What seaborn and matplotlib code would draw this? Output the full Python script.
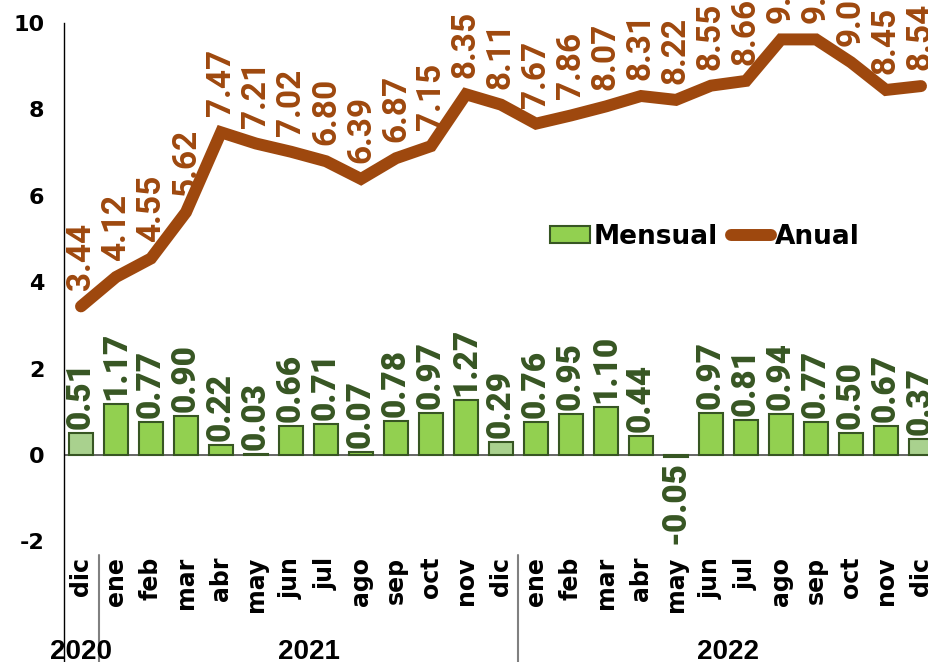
import matplotlib
matplotlib.use("Agg")
import matplotlib.pyplot as plt
import seaborn as sns
import pandas as pd
import numpy as np
from matplotlib.patches import Patch
from matplotlib.lines import Line2D

# ---- data ----
months = ["dic", "ene", "feb", "mar", "abr", "may", "jun", "jul", "ago", "sep", "oct", "nov", "dic",
          "ene", "feb", "mar", "abr", "may", "jun", "jul", "ago", "sep", "oct", "nov", "dic"]
years = ["2020"] + ["2021"] * 12 + ["2022"] * 12
mensual = [0.51, 1.17, 0.77, 0.90, 0.22, 0.03, 0.66, 0.71, 0.07, 0.78, 0.97, 1.27, 0.29,
           0.76, 0.95, 1.10, 0.44, -0.05, 0.97, 0.81, 0.94, 0.77, 0.50, 0.67, 0.37]
anual = [3.44, 4.12, 4.55, 5.62, 7.47, 7.21, 7.02, 6.80, 6.39, 6.87, 7.15, 8.35, 8.11,
         7.67, 7.86, 8.07, 8.31, 8.22, 8.55, 8.66, 9.62, 9.62, 9.09, 8.45, 8.54]
yticks = [-2, 0, 2, 4, 6, 8, 10]

GREEN = "#92d050"
GREEN_LIGHT = "#a9d18e"
GREEN_EDGE = "#375623"
GREEN_TXT = "#375623"
BROWN = "#9e480e"

df = pd.DataFrame({"pos": range(len(months)), "mes": months, "anio": years,
                   "mensual": mensual, "anual": anual})
bar_colors = [GREEN_LIGHT if m == "dic" else GREEN for m in months]

sns.set_style("white")
plt.rcParams["font.family"] = ["DejaVu Sans"]
plt.rcParams["text.color"] = "black"

W, H = 929, 662
fig = plt.figure(figsize=(W / 100, H / 100), dpi=100)
# axes: y=10 at px 23, y=-5 at px 671; x=-0.5 at px 63.5, x=24.5 at px 938.5
ax = fig.add_axes([63.5 / W, (H - 671) / H, 875 / W, 648 / H])

sns.barplot(data=df, x="pos", y="mensual", hue="pos", palette=bar_colors, legend=False,
            width=0.67, saturation=1, edgecolor=GREEN_EDGE, linewidth=1.5, ax=ax, zorder=2)
sns.lineplot(data=df, x="pos", y="anual", color=BROWN, linewidth=8.6, ax=ax, zorder=3,
             solid_joinstyle="miter", solid_capstyle="round")

ax.set_xlim(-0.5, 24.5)
ax.set_ylim(-5, 10)
ax.set_yticks(yticks)
ax.set_yticklabels([str(t) for t in yticks], fontsize=16, fontweight="bold", color="black")
ax.tick_params(axis="y", length=5.8, width=1.3, color="#808080", pad=8)
ax.set_xticks([])
ax.set_xlabel("")
ax.set_ylabel("")
for s in ["top", "right", "bottom"]:
    ax.spines[s].set_visible(False)
ax.spines["left"].set_color("black")
ax.spines["left"].set_linewidth(1.0)
ax.axhline(0, color="#595959", linewidth=1.3, zorder=1)

# data labels
for i, (m, a) in enumerate(zip(mensual, anual)):
    if m >= 0:
        ax.annotate(f"{m:.2f}", (i, m), xytext=(0, 3), textcoords="offset points",
                    rotation=90, ha="center", va="bottom", fontsize=24,
                    family="Roboto", fontweight="black", color=GREEN_TXT, annotation_clip=False)
    else:
        ax.annotate(f"{m:.2f}", (i, m), xytext=(0, -3), textcoords="offset points",
                    rotation=90, ha="center", va="top", fontsize=24,
                    family="Roboto", fontweight="black", color=GREEN_TXT, annotation_clip=False)
    ax.annotate(f"{a:.2f}", (i, a), xytext=(0, 11.5), textcoords="offset points",
                rotation=90, ha="center", va="bottom", fontsize=24,
                family="Roboto", fontweight="bold", color=BROWN, annotation_clip=False)

# category labels
for i, m in enumerate(months):
    ax.text(i, -2.36, m, rotation=90, ha="center", va="top", fontsize=17,
            fontweight="bold", color="black", clip_on=False)

# year labels and separators
for y in ["2020", "2021", "2022"]:
    pos = [i for i, yy in enumerate(years) if yy == y]
    ax.text(np.mean(pos), -4.25, y, ha="center", va="top", fontsize=20,
            family="Liberation Sans", fontweight="bold", color="black", clip_on=False)
    if pos[-1] < len(months) - 1:
        ax.plot([pos[-1] + 0.5] * 2, [-2.31, -5], color="#808080", linewidth=1.5, clip_on=False)

handles = [Patch(facecolor=GREEN, edgecolor=GREEN_EDGE, linewidth=1.5),
           Line2D([0], [0], color=BROWN, linewidth=8.6, solid_capstyle="round")]
leg = fig.legend(handles, ["Mensual", "Anual"], loc="center", bbox_to_anchor=(705 / W, 1 - 237 / H),
                 ncol=2, frameon=False, prop={"weight": "bold", "size": 19},
                 handlelength=1.5, handleheight=0.6, handletextpad=0.15, columnspacing=0.5)
for t in leg.get_texts():
    t.set_color("black")

fig.savefig("out.png", dpi=100)
